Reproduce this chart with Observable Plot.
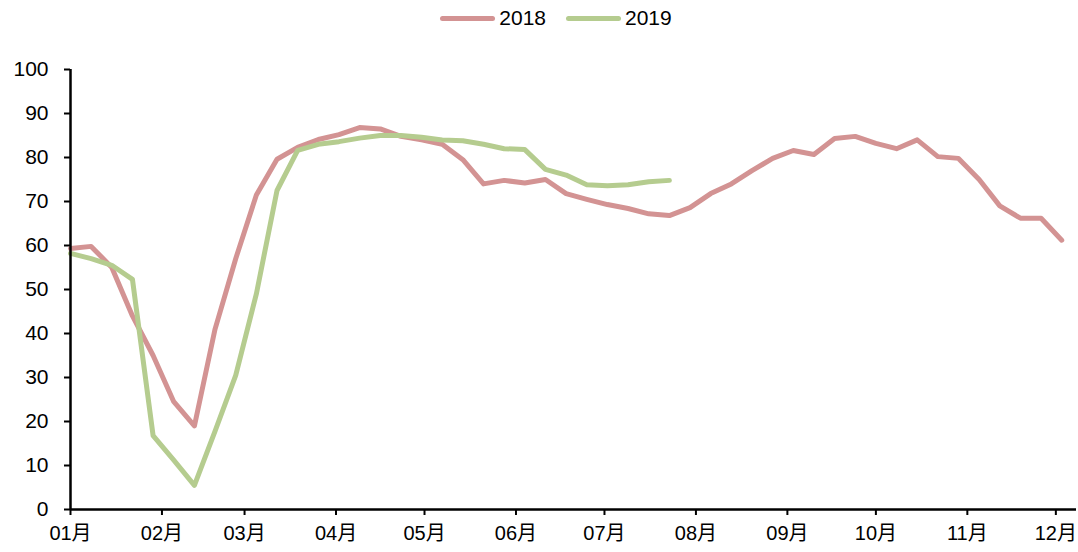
<!DOCTYPE html>
<html>
<head>
<meta charset="utf-8">
<script src="https://cdn.jsdelivr.net/npm/d3@7"></script>
<script src="https://cdn.jsdelivr.net/npm/@observablehq/plot@0.6"></script>
<style>
  html, body { margin: 0; padding: 0; background: #fff; }
  #wrap { position: relative; width: 1078px; height: 552px; font-family: "Liberation Sans", Arial, "Noto Sans CJK SC", sans-serif; }
  #legend { position: absolute; top: 6px; left: 0; width: 1078px; display: flex; justify-content: center; gap: 20px; font-size: 21px; color: #000; padding-left: 34px; box-sizing: border-box; }
  .item { display: flex; align-items: center; gap: 4px; }
  .swatch { width: 55px; height: 5px; border-radius: 3px; }
</style>
</head>
<body>
<div id="wrap">
  <div id="legend"></div>
  <div id="chart"></div>
</div>
<script>
// Weekly observation dates (plotted on a common Jan–Dec axis)
const weeks = [
  "2018-01-01","2018-01-08","2018-01-15","2018-01-22","2018-01-29",
  "2018-02-05","2018-02-12","2018-02-19","2018-02-26",
  "2018-03-05","2018-03-12","2018-03-19","2018-03-26",
  "2018-04-02","2018-04-09","2018-04-16","2018-04-23","2018-04-30",
  "2018-05-07","2018-05-14","2018-05-21","2018-05-28",
  "2018-06-04","2018-06-11","2018-06-18","2018-06-25",
  "2018-07-02","2018-07-09","2018-07-16","2018-07-23","2018-07-30",
  "2018-08-06","2018-08-13","2018-08-20","2018-08-27",
  "2018-09-03","2018-09-10","2018-09-17","2018-09-24",
  "2018-10-01","2018-10-08","2018-10-15","2018-10-22","2018-10-29",
  "2018-11-05","2018-11-12","2018-11-19","2018-11-26",
  "2018-12-03"
];

const values2018 = [
  59.3, 59.8, 55.0, 44.0, 35.0, 24.5, 19.0, 41.0, 57.0, 71.5,
  79.6, 82.3, 84.1, 85.2, 86.8, 86.5, 84.8, 84.0, 83.0, 79.5,
  74.0, 74.8, 74.2, 75.0, 71.8, 70.5, 69.3, 68.4, 67.2, 66.8,
  68.6, 71.8, 74.0, 77.0, 79.8, 81.6, 80.7, 84.3, 84.8, 83.2,
  82.0, 84.0, 80.2, 79.8, 75.0, 69.0, 66.2, 66.2, 61.2
];

const values2019 = [
  58.2, 57.0, 55.5, 52.3, 16.8, 11.2, 5.5, 17.8, 30.5, 49.0,
  72.5, 81.6, 83.0, 83.6, 84.4, 85.0, 85.0, 84.6, 84.0, 83.8,
  83.0, 82.0, 81.8, 77.3, 76.0, 73.8, 73.6, 73.8, 74.5, 74.8
];

const seriesNames = ["2018", "2019"];
const seriesColors = ["#d39393", "#b5cc8f"];

const monthTicks = [
  "2018-01-01","2018-02-01","2018-03-01","2018-04-01","2018-05-01","2018-06-01",
  "2018-07-01","2018-08-01","2018-09-01","2018-10-01","2018-11-01","2018-12-01"
];
const monthLabels = ["01月","02月","03月","04月","05月","06月","07月","08月","09月","10月","11月","12月"];

const yTicks = [0,10,20,30,40,50,60,70,80,90,100];

const rows = [
  ...values2018.map((v, i) => ({date: new Date(weeks[i]), value: v, series: "2018"})),
  ...values2019.map((v, i) => ({date: new Date(weeks[i]), value: v, series: "2019"}))
];

const tickDates = monthTicks.map(d => new Date(d));
const labelOf = new Map(tickDates.map((d, i) => [+d, monthLabels[i]]));

const xStart = new Date("2018-01-01");
const xEnd = new Date("2018-12-08");

const chart = Plot.plot({
  width: 1078,
  height: 552,
  marginTop: 69,
  marginBottom: 43,
  marginLeft: 70,
  marginRight: 2,
  style: { fontFamily: "\"Liberation Sans\", Arial, \"Noto Sans CJK SC\", sans-serif", fontSize: "21px", color: "#000", background: "#fff" },
  x: { type: "utc", domain: [xStart, xEnd] },
  y: { domain: [0, 100] },
  color: { domain: seriesNames, range: seriesColors },
  marks: [
    Plot.axisY({ticks: yTicks, tickSize: 6, tickPadding: 16, label: null, strokeWidth: 2, fontSize: 21}),
    Plot.axisX({ticks: tickDates, tickFormat: d => labelOf.get(+d), tickSize: 6, tickPadding: 10, label: null, strokeWidth: 2, fontSize: 20}),
    Plot.line(rows, {x: "date", y: "value", z: "series", stroke: "series", strokeWidth: 5, strokeLinejoin: "round", strokeLinecap: "round"}),
    Plot.ruleX([xStart], {stroke: "#000", strokeWidth: 2.5}),
    Plot.ruleY([0], {stroke: "#000", strokeWidth: 2.5})
  ]
});
document.getElementById("chart").appendChild(chart);

const legend = document.getElementById("legend");
seriesNames.forEach((name, i) => {
  const item = document.createElement("div");
  item.className = "item";
  const sw = document.createElement("div");
  sw.className = "swatch";
  sw.style.background = seriesColors[i];
  const lab = document.createElement("span");
  lab.textContent = name;
  item.appendChild(sw);
  item.appendChild(lab);
  legend.appendChild(item);
});
</script>
</body>
</html>
